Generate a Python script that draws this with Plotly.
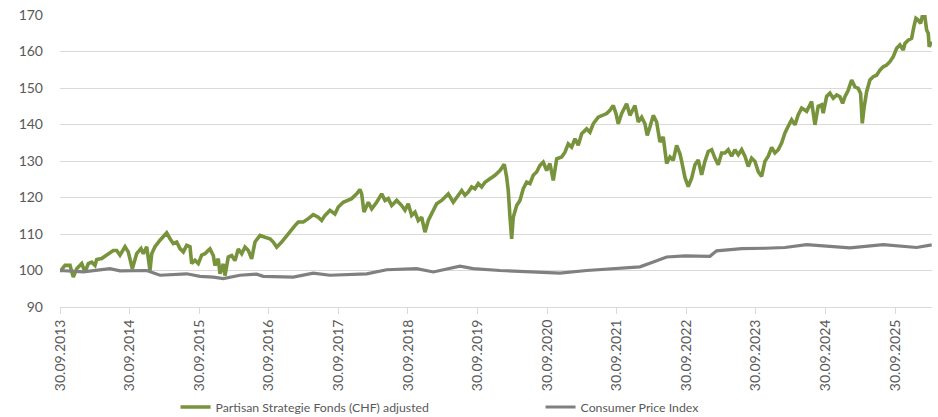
import plotly.graph_objects as go

# Partisan Strategie Fonds (CHF) adjusted – time in decimal years, value indexed to 100
fund_t = [
    2013.750, 2013.764, 2013.822, 2013.894, 2013.941, 2013.990, 2014.062, 2014.109, 2014.157, 2014.205,
    2014.253, 2014.277, 2014.349, 2014.444, 2014.516, 2014.565, 2014.612, 2014.684, 2014.731, 2014.789,
    2014.852, 2014.914, 2014.947, 2014.996, 2015.043, 2015.068, 2015.115, 2015.187, 2015.283, 2015.331,
    2015.378, 2015.427, 2015.474, 2015.522, 2015.570, 2015.618, 2015.642, 2015.690, 2015.737, 2015.786,
    2015.833, 2015.881, 2015.905, 2015.953, 2015.977, 2016.024, 2016.049, 2016.096, 2016.121, 2016.168,
    2016.217, 2016.264, 2016.312, 2016.361, 2016.408, 2016.456, 2016.504, 2016.552, 2016.624, 2016.695,
    2016.767, 2016.815, 2016.864, 2016.935, 2017.007, 2017.079, 2017.126, 2017.174, 2017.246, 2017.318,
    2017.389, 2017.461, 2017.510, 2017.558, 2017.629, 2017.701, 2017.749, 2017.820, 2017.869, 2017.941,
    2018.013, 2018.060, 2018.085, 2018.118, 2018.180, 2018.229, 2018.300, 2018.372, 2018.420, 2018.467,
    2018.516, 2018.588, 2018.660, 2018.707, 2018.754, 2018.803, 2018.851, 2018.898, 2018.947, 2018.994,
    2019.042, 2019.114, 2019.162, 2019.234, 2019.329, 2019.401, 2019.473, 2019.522, 2019.569, 2019.616,
    2019.665, 2019.713, 2019.760, 2019.809, 2019.856, 2019.928, 2020.000, 2020.072, 2020.134, 2020.168,
    2020.191, 2020.216, 2020.240, 2020.263, 2020.312, 2020.359, 2020.407, 2020.456, 2020.503, 2020.550,
    2020.599, 2020.647, 2020.694, 2020.743, 2020.790, 2020.838, 2020.887, 2020.958, 2021.006, 2021.053,
    2021.102, 2021.150, 2021.197, 2021.246, 2021.318, 2021.365, 2021.412, 2021.484, 2021.556, 2021.605,
    2021.652, 2021.700, 2021.739, 2021.772, 2021.821, 2021.892, 2021.940, 2022.012, 2022.059, 2022.108,
    2022.155, 2022.188, 2022.227, 2022.275, 2022.323, 2022.371, 2022.418, 2022.467, 2022.515, 2022.562,
    2022.611, 2022.658, 2022.683, 2022.730, 2022.777, 2022.826, 2022.874, 2022.921, 2022.970, 2023.017,
    2023.065, 2023.114, 2023.161, 2023.208, 2023.257, 2023.305, 2023.352, 2023.401, 2023.448, 2023.496,
    2023.545, 2023.592, 2023.640, 2023.688, 2023.736, 2023.783, 2023.832, 2023.879, 2023.927, 2023.976,
    2024.023, 2024.071, 2024.119, 2024.167, 2024.214, 2024.263, 2024.311, 2024.358, 2024.407, 2024.479,
    2024.550, 2024.598, 2024.645, 2024.694, 2024.717, 2024.766, 2024.813, 2024.861, 2024.910, 2024.957,
    2024.996, 2025.029, 2025.076, 2025.125, 2025.173, 2025.220, 2025.254, 2025.278, 2025.306, 2025.341,
    2025.388, 2025.436, 2025.484, 2025.532, 2025.579, 2025.628, 2025.675, 2025.723, 2025.772, 2025.819,
    2025.867, 2025.891, 2025.938, 2025.987, 2026.020, 2026.049, 2026.082, 2026.117, 2026.145, 2026.168,
    2026.203, 2026.226, 2026.240, 2026.275,
]
fund_v = [
    100.0, 100.0, 101.4, 101.4, 98.2, 100.5, 101.9, 99.6, 101.9, 102.3,
    101.4, 103.0, 103.3, 104.6, 105.5, 105.5, 104.2, 106.5, 105.1, 100.5,
    104.6, 106.0, 104.6, 106.5, 100.0, 104.6, 106.5, 108.3, 110.3, 108.7,
    107.4, 107.8, 106.0, 105.1, 106.9, 106.5, 101.9, 102.8, 101.9, 104.2,
    104.6, 105.5, 105.9, 104.1, 101.4, 103.2, 99.1, 101.8, 98.6, 103.7,
    104.1, 102.7, 105.9, 104.6, 106.4, 105.5, 103.2, 107.8, 109.6, 109.1,
    108.7, 107.8, 106.4, 107.8, 109.6, 111.0, 112.3, 113.3, 113.3, 114.2,
    115.3, 114.6, 113.7, 115.1, 116.5, 115.5, 117.4, 118.7, 119.2, 119.7,
    121.0, 122.2, 121.0, 116.0, 118.7, 116.9, 118.7, 121.0, 119.2, 119.7,
    117.8, 119.2, 117.8, 116.5, 118.3, 115.1, 116.0, 113.7, 114.6, 110.5,
    113.7, 116.5, 118.3, 119.2, 121.0, 118.7, 120.6, 121.9, 120.6, 121.5,
    122.9, 122.4, 123.8, 122.9, 124.2, 125.1, 126.1, 127.4, 129.1, 125.6,
    121.9, 114.6, 108.7, 114.6, 117.8, 119.2, 122.4, 124.2, 123.8, 126.1,
    127.0, 128.8, 129.7, 127.4, 129.3, 124.7, 130.6, 131.1, 132.4, 134.7,
    133.8, 136.1, 134.3, 137.5, 138.8, 137.9, 140.2, 142.0, 142.5, 143.0,
    143.9, 145.2, 143.0, 140.2, 143.0, 145.7, 142.5, 145.2, 140.7, 142.0,
    140.2, 137.0, 139.3, 142.5, 140.7, 135.2, 136.6, 129.3, 131.1, 130.2,
    134.3, 132.0, 129.9, 125.5, 123.0, 125.3, 129.0, 130.3, 126.2, 129.9,
    132.6, 133.1, 130.8, 129.0, 132.2, 132.2, 133.1, 131.3, 133.1, 131.7,
    133.1, 131.3, 128.5, 130.8, 129.9, 127.1, 125.8, 129.9, 131.3, 133.7,
    132.2, 133.1, 134.9, 137.7, 139.5, 141.3, 139.9, 142.7, 144.5, 143.6,
    146.3, 139.9, 145.0, 145.4, 143.1, 147.7, 148.6, 147.2, 148.1, 147.6,
    145.8, 147.6, 149.4, 152.2, 150.3, 149.9, 148.5, 140.3, 144.9, 149.0,
    152.2, 153.1, 153.5, 154.9, 155.8, 156.3, 157.2, 158.6, 160.9, 161.8,
    160.4, 162.2, 163.1, 163.6, 166.8, 169.1, 168.6, 167.7, 170.0, 170.9,
    165.9, 165.0, 161.3, 162.7,
]

# Consumer Price Index – indexed to 100
cpi_t = [
    2013.750, 2014.085, 2014.468, 2014.612, 2014.996, 2015.187, 2015.570, 2015.762, 2015.953, 2016.096,
    2016.336, 2016.576, 2016.671, 2016.958, 2017.102, 2017.389, 2017.629, 2018.157, 2018.444, 2018.875,
    2019.114, 2019.497, 2019.688, 2020.072, 2020.550, 2020.934, 2021.318, 2021.796, 2022.083, 2022.275,
    2022.467, 2022.730, 2023.089, 2023.185, 2023.545, 2023.879, 2024.167, 2024.479, 2024.742, 2025.101,
    2025.579, 2026.059, 2026.275,
]
cpi_v = [
    100.0, 99.6, 100.5, 99.9, 100.0, 98.7, 99.1, 98.4, 98.2, 97.8,
    98.7, 99.0, 98.4, 98.4, 98.2, 99.3, 98.7, 99.1, 100.2, 100.5,
    99.6, 101.2, 100.5, 100.0, 99.6, 99.3, 100.0, 100.5, 101.0, 102.3,
    103.7, 104.0, 103.9, 105.4, 106.0, 106.1, 106.3, 107.1, 106.8, 106.2,
    107.1, 106.3, 107.0,
]

tick_years = list(range(2013, 2026))
tick_vals = [y + 0.75 for y in tick_years]
tick_text = [f"30.09.{y}" for y in tick_years]
y_ticks = [90, 100, 110, 120, 130, 140, 150, 160, 170]

FONT = "Lato"
TXT = "#595959"

fig = go.Figure()
fig.add_trace(go.Scatter(
    x=fund_t, y=fund_v, mode="lines",
    name="Partisan Strategie Fonds (CHF) adjusted",
    line=dict(color="#77933C", width=3.6),
))
fig.add_trace(go.Scatter(
    x=cpi_t, y=cpi_v, mode="lines",
    name="Consumer Price Index",
    line=dict(color="#808080", width=3.2),
))

fig.update_layout(
    width=938, height=417,
    margin=dict(l=60, r=6, t=15, b=110),
    paper_bgcolor="white", plot_bgcolor="white",
    font=dict(family=FONT, size=14, color=TXT),
    showlegend=True,
    legend=dict(
        orientation="h", x=0.1325, xanchor="left",
        yref="container", y=0.024, yanchor="middle",
        font=dict(family=FONT, size=12.3, color=TXT),
        entrywidth=320, itemwidth=30,
        bgcolor="rgba(0,0,0,0)",
    ),
)
fig.update_xaxes(
    range=[2013.75, 2026.28], automargin=False,
    tickmode="array", tickvals=tick_vals, ticktext=tick_text,
    tickangle=-90, ticks="outside", ticklen=6, tickcolor="#D9D9D9",
    showline=True, linecolor="#D9D9D9", linewidth=1,
    showgrid=False, zeroline=False,
    tickfont=dict(family=FONT, size=14, color=TXT),
)
fig.update_yaxes(
    range=[90, 170], tickmode="array", tickvals=y_ticks, automargin=False,
    showgrid=True, gridcolor="#D9D9D9", gridwidth=1,
    zeroline=False, showline=False, ticks="",
    ticklabelstandoff=16, ticklabeloverflow="allow",
    tickfont=dict(family=FONT, size=14, color=TXT),
)

fig.write_html(
    "out.html",
    config={"displayModeBar": False},
    post_script="document.body.style.margin='0px';document.body.style.overflow='hidden';",
)
